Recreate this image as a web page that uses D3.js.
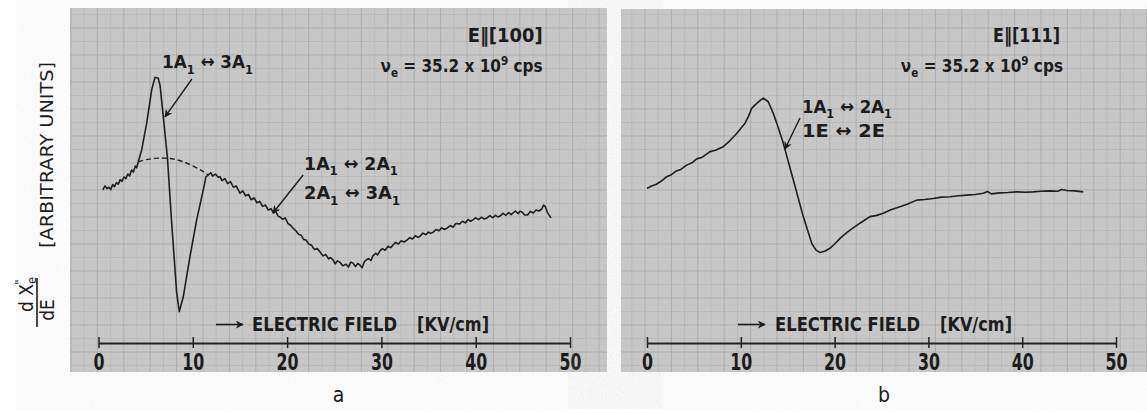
<!DOCTYPE html>
<html>
<head>
<meta charset="utf-8">
<script src="https://cdn.jsdelivr.net/npm/d3@7"></script>
<style>
    body { margin: 0; background: #ffffff; }
    text { font-family: "Liberation Sans Narrow", "DejaVu Sans Condensed", "Liberation Sans", sans-serif; fill: #1c1c1c; }
</style>
</head>
<body>
<svg id="chart"></svg>
<script>

// tick values of the field axis (kV/cm)
var ticksKV = [0, 10, 20, 30, 40, 50];

// panel a : E || [100], recorder trace [field kV/cm, dX"/dE arbitrary units]
var traceA = [
    [0.45,46.4],[0.7,47.6],[0.9,46.8],[1.1,47.2],[1.3,46.5],[1.5,48.0],[1.7,47.4],[1.9,48.6],[2.1,48.1],[2.3,49.5],
    [2.5,49.0],[2.7,50.3],[2.9,49.8],[3.1,51.2],[3.3,50.6],[3.5,52.4],[3.7,51.8],[3.9,53.6],[4.05,53.1],[4.22,54.9],
    [4.58,58.5],[5.11,66.6],[5.64,76.7],[5.99,80.5],[6.34,80.2],[6.52,78.2],[6.87,68.6],[7.30,56.5],[7.76,36.4],
    [8.29,15.2],[8.57,9.5],[8.99,14.0],[9.70,26.2],[10.41,37.3],[11.11,46.4],[11.40,50.4],[11.64,50.9],
    [11.9,51.6],[12.1,50.6],[12.4,51.2],[12.7,50.2],[12.88,50.4],[13.1,49.2],[13.4,49.8],[13.7,48.3],[14.0,48.9],
    [14.3,47.2],[14.6,47.6],[15.0,45.4],[15.3,46.1],[15.6,44.6],[15.9,45.0],[16.2,43.4],[16.5,44.0],[16.8,42.5],
    [17.1,42.9],[17.4,41.4],[17.7,41.8],[18.0,40.3],[18.3,40.7],[18.54,39.4],[18.8,39.9],[19.05,38.4],[19.25,38.2],
    [19.5,37.5],[19.8,37.9],[20.1,36.2],[20.4,35.6],[20.63,34.8],[20.9,34.1],[21.2,33.0],[21.5,32.6],[21.75,31.4],
    [22.0,31.2],[22.3,30.0],[22.6,29.6],[22.9,28.3],[23.2,28.6],[23.5,27.6],[23.8,26.4],[24.1,26.8],[24.4,25.5],
    [24.6,25.9],[24.87,25.2],[25.1,24.0],[25.35,24.9],[25.6,24.5],[25.9,23.4],[26.25,23.9],[26.5,23.0],[26.75,24.5],
    [26.99,24.2],[27.25,23.2],[27.5,24.1],[27.73,23.6],[27.95,22.8],[28.2,24.6],[28.4,25.2],[28.65,25.6],[28.9,25.0],
    [29.1,26.4],[29.4,27.2],[29.6,26.7],[29.85,27.9],[30.1,28.6],[30.4,28.1],[30.7,29.3],[31.0,28.9],[31.23,29.7],
    [31.5,30.5],[31.8,30.0],[32.1,31.0],[32.4,30.6],[32.71,31.2],[33.0,31.9],[33.3,31.5],[33.6,32.5],[33.9,32.0],
    [34.1,32.4],[34.4,33.3],[34.7,32.8],[35.0,33.6],[35.2,33.2],[35.5,33.6],[35.8,34.4],[36.1,34.0],[36.4,34.9],
    [36.7,34.4],[36.96,34.8],[37.3,35.6],[37.6,35.1],[37.9,36.2],[38.3,36.1],[38.6,36.9],[38.9,36.4],[39.2,37.4],
    [39.45,36.9],[39.7,37.3],[40.0,37.9],[40.3,37.4],[40.6,38.1],[40.9,37.6],[41.2,37.9],[41.5,38.6],[41.8,38.0],
    [42.1,38.7],[42.35,38.2],[42.6,38.5],[42.9,39.3],[43.2,38.7],[43.5,39.5],[43.75,38.9],[43.96,39.4],[44.2,40.0],
    [44.5,39.2],[44.7,39.9],[44.9,39.7],[45.2,38.8],[45.5,38.8],[45.8,39.9],[46.1,39.4],[46.4,40.3],[46.7,40.0],
    [47.0,40.6],[47.2,41.8],[47.35,41.5],[47.6,39.6],[47.98,37.9]
];

// panel a : dashed background under the 1A1 <-> 3A1 line
var baselineA = [[4.22,54.9],[5,55.6],[6,56.0],[7,56.1],[8,55.8],[9,55.0],[10,53.7],[11,52.2],[11.64,50.9]];

// panel b : E || [111]
var traceB = [
    [0.0,46.9],[0.5,47.6],[1.0,48.1],[1.5,49.0],[2.1,50.4],[2.6,51.0],[3.1,52.1],[3.6,52.6],[4.23,53.9],[4.8,54.6],
    [5.3,55.8],[5.9,56.3],[6.72,58.0],[7.3,58.4],[8.13,59.5],[8.8,61.2],[9.56,63.5],[10.45,66.6],[10.8,68.6],
    [11.16,71.1],[11.7,72.6],[12.1,73.6],[12.4,74.2],[12.93,73.1],[13.46,69.6],[14.0,65.2],[14.53,60.5],[15.6,49.4],
    [16.66,38.3],[17.56,30.2],[18.0,28.2],[18.44,27.4],[19.0,27.9],[19.5,28.7],[20.0,30.0],[20.58,31.7],[21.1,33.0],
    [21.64,34.2],[22.7,36.3],[23.77,38.3],[24.4,38.6],[25.19,39.3],[26.0,40.4],[26.97,41.3],[27.8,42.1],[28.75,43.3],
    [29.6,43.5],[30.52,43.8],[31.4,44.2],[32.3,44.3],[33.2,44.6],[34.08,44.8],[35.0,45.0],[35.85,45.4],[36.3,45.9],
    [36.7,45.2],[37.63,45.5],[38.5,45.6],[39.41,45.8],[40.3,45.7],[41.18,45.8],[42.0,46.0],[42.96,46.1],[43.8,46.0],
    [44.2,46.5],[44.74,46.2],[45.6,46.1],[46.5,45.8]
];

var width = 1147, height = 414;

var svg = d3.select("#chart")
    .attr("width", width)
    .attr("height", height);

// paper grain + arrow head
var defs = svg.append("defs");
var grain = defs.append("filter").attr("id", "grain");
grain.append("feTurbulence")
    .attr("type", "fractalNoise")
    .attr("baseFrequency", 0.9)
    .attr("numOctaves", 2)
    .attr("seed", 4);
grain.append("feColorMatrix").attr("type", "saturate").attr("values", 0);

defs.append("marker")
    .attr("id", "head")
    .attr("viewBox", "0 0 10 10")
    .attr("refX", 9).attr("refY", 5)
    .attr("markerWidth", 8).attr("markerHeight", 8)
    .attr("markerUnits", "userSpaceOnUse")
    .attr("orient", "auto")
    .append("path")
    .attr("d", "M0,0 L10,5 L0,10 L3,5 Z")
    .style("fill", "#1c1c1c");

var y = d3.scaleLinear().domain([0, 100]).range([343, 13]);

// text with sub / superscripts: parts = [[string, "sub"|"sup"|""], ...]
// len squeezes the lettering to the narrow width of the original stencil
function addLabel(g, x, yPos, parts, size, anchor, len) {
    var t = g.append("text")
        .attr("x", x)
        .attr("y", yPos)
        .attr("text-anchor", anchor || "start")
        .style("font-size", size + "px")
        .style("font-weight", "bold");
    if (len) t.attr("textLength", len).attr("lengthAdjust", "spacingAndGlyphs");
    var shift = 0;
    parts.forEach(function(p) {
        var target = p[1] == "sub" ? size * 0.3 : (p[1] == "sup" ? -size * 0.42 : 0);
        t.append("tspan")
            .attr("dy", target - shift)
            .style("font-size", (p[1] ? size * 0.68 : size) + "px")
            .text(p[0]);
        shift = target;
    });
    return t;
}

function drawPanel(cfg) {
    var g = svg.append("g");
    var x = d3.scaleLinear().domain([0, 50]).range(cfg.xRange);

    // grey recorder paper
    g.append("rect")
        .attr("x", cfg.box[0]).attr("y", cfg.box[1])
        .attr("width", cfg.box[2] - cfg.box[0]).attr("height", cfg.box[3] - cfg.box[1])
        .style("fill", "#c8c8c8");
    g.append("rect")
        .attr("x", cfg.box[0]).attr("y", cfg.box[1])
        .attr("width", cfg.box[2] - cfg.box[0]).attr("height", cfg.box[3] - cfg.box[1])
        .attr("filter", "url(#grain)")
        .style("opacity", 0.13);

    // paper grid, fine lines between the heavier ones
    g.selectAll(".vgrid")
        .data(d3.range(cfg.gridX - 13.2, cfg.box[2], 13.2).filter(function(d) { return d > cfg.box[0]; }))
        .enter().append("line")
        .attr("x1", function(d) { return d; }).attr("x2", function(d) { return d; })
        .attr("y1", cfg.box[1]).attr("y2", cfg.box[3])
        .style("stroke", "#999")
        .style("opacity", function(d) { return (Math.round((d - cfg.gridX) / 13.2) % 2 == 0) ? 0.55 : 0.25; });
    g.selectAll(".hgrid")
        .data(d3.range(14.5, cfg.box[3], 13.5).filter(function(d) { return d > cfg.box[1]; }))
        .enter().append("line")
        .attr("x1", cfg.box[0]).attr("x2", cfg.box[2])
        .attr("y1", function(d) { return d; }).attr("y2", function(d) { return d; })
        .style("stroke", "#999")
        .style("opacity", function(d, i) { return i % 2 == 1 ? 0.55 : 0.25; });

    // field axis
    var axis = g.append("g")
        .attr("transform", "translate(0," + y(0) + ")")
        .call(d3.axisBottom(x).tickValues(ticksKV).tickSize(5).tickSizeOuter(0));
    axis.select(".domain").style("stroke", "#222").style("stroke-width", 2);
    axis.selectAll(".tick line").attr("y1", -6).style("stroke", "#222").style("stroke-width", 1.5);
    axis.selectAll(".tick text")
        .attr("y", 27).attr("dy", 0)
        .attr("textLength", function(d) { return d < 10 ? 11 : 22; })
        .attr("lengthAdjust", "spacingAndGlyphs")
        .style("font-family", "'Liberation Sans Narrow', 'DejaVu Sans Condensed', sans-serif")
        .style("font-size", "23px")
        .style("font-weight", "bold")
        .style("fill", "#1c1c1c");

    var line = d3.line()
        .x(function(d) { return x(d[0]); })
        .y(function(d) { return y(d[1]); });

    if (cfg.dashed) {
        g.append("path")
            .attr("d", line.curve(d3.curveBasis)(cfg.dashed))
            .style("fill", "none").style("stroke", "#222")
            .style("stroke-width", 1.4).style("stroke-dasharray", "5,3");
        line.curve(d3.curveLinear);
    }

    g.append("path")
        .attr("d", line(cfg.trace))
        .style("fill", "none")
        .style("stroke", "#1e1e1e")
        .style("stroke-width", 1.6)
        .style("stroke-linejoin", "round");

    // header text
    addLabel(g, x(cfg.headX), y(91.3), [["E\u2016[" + cfg.dir + "]", ""]], 19, "end", cfg.headLen);
    addLabel(g, x(cfg.nuX), y(82.1), [["\u03bd", ""], ["e", "sub"], [" = 35.2 x 10", ""], ["9", "sup"], [" cps", ""]], 17, "end");

    // transition labels and pointers
    cfg.notes.forEach(function(n) {
        addLabel(g, x(n.at[0]), y(n.at[1]), n.parts, 18, "start", n.len);
    });
    cfg.pointers.forEach(function(p) {
        g.append("line")
            .attr("x1", x(p[0])).attr("y1", y(p[1]))
            .attr("x2", x(p[2])).attr("y2", y(p[3]))
            .style("stroke", "#1c1c1c").style("stroke-width", 1.4)
            .attr("marker-end", "url(#head)");
    });

    // axis title: arrow, words, unit
    g.append("line")
        .attr("x1", x(cfg.title[0])).attr("x2", x(cfg.title[1]))
        .attr("y1", y(5.6)).attr("y2", y(5.6))
        .style("stroke", "#1c1c1c").style("stroke-width", 1.6)
        .attr("marker-end", "url(#head)");
    addLabel(g, x(cfg.title[2]), y(3.6), [["ELECTRIC FIELD", ""]], 19, "start", 145);
    addLabel(g, x(cfg.title[3]), y(3.6), [["[KV/cm]", ""]], 19, "start", 72);

    // panel letter
    svg.append("text")
        .attr("x", (cfg.box[0] + cfg.box[2]) / 2)
        .attr("y", 402)
        .attr("text-anchor", "middle")
        .style("font-size", "21px")
        .text(cfg.letter);
}

drawPanel({
    box: [70, 8, 607, 372], xRange: [98.5, 570], gridX: 71,
    trace: traceA, dashed: baselineA, dir: "100", letter: "a",
    headX: 47.1, headLen: 75, nuX: 47.1,
    title: [12.46, 15.32, 16.28, 33.78],
    notes: [
        { at: [6.73, 83.3], len: 91, parts: [["1A", ""], ["1", "sub"], [" \u2194 3A", ""], ["1", "sub"]] },
        { at: [21.8, 52.4], len: 94, parts: [["1A", ""], ["1", "sub"], [" \u2194 2A", ""], ["1", "sub"]] },
        { at: [21.8, 43.6], len: 96, parts: [["2A", ""], ["1", "sub"], [" \u2194 3A", ""], ["1", "sub"]] }
    ],
    pointers: [[9.91, 80.0, 7.05, 68.5], [21.7, 50.9, 18.5, 39.4]]
});

drawPanel({
    box: [621, 9, 1147, 372], xRange: [647, 1116], gridX: 645,
    trace: traceB, dir: "111", letter: "b",
    headX: 44.03, headLen: 67, nuX: 44.35,
    title: [9.70, 12.58, 13.65, 31.24],
    notes: [
        { at: [16.52, 69.7], len: 90, parts: [["1A", ""], ["1", "sub"], [" \u2194 2A", ""], ["1", "sub"]] },
        { at: [16.52, 62.4], len: 83, parts: [["1E  \u2194 2E", ""]] }
    ],
    pointers: [[16.31, 68.2, 14.71, 58.8]]
});

// y axis title, rotated
svg.append("text")
    .attr("transform", "translate(53,155) rotate(-90)")
    .attr("text-anchor", "middle")
    .attr("textLength", 186)
    .attr("lengthAdjust", "spacingAndGlyphs")
    .style("font-size", "18px")
    .text("[ARBITRARY UNITS]");

var frac = svg.append("g").attr("transform", "translate(37,302) rotate(-90)");
frac.append("line")
    .attr("x1", -25).attr("x2", 24).attr("y1", 0).attr("y2", 0)
    .style("stroke", "#1c1c1c").style("stroke-width", 1.6);
var num = frac.append("text")
    .attr("x", -10).attr("y", -4)
    .style("font-size", "19px");
num.append("tspan").text("d X");
num.append("tspan").attr("dy", 3).style("font-size", "13px").text("e");
num.append("tspan").attr("dx", -8).attr("dy", -12).style("font-size", "13px").text("\"");
frac.append("text")
    .attr("x", -8).attr("y", 17)
    .attr("text-anchor", "middle")
    .style("font-size", "19px")
    .text("dE");

</script>
</body>
</html>
